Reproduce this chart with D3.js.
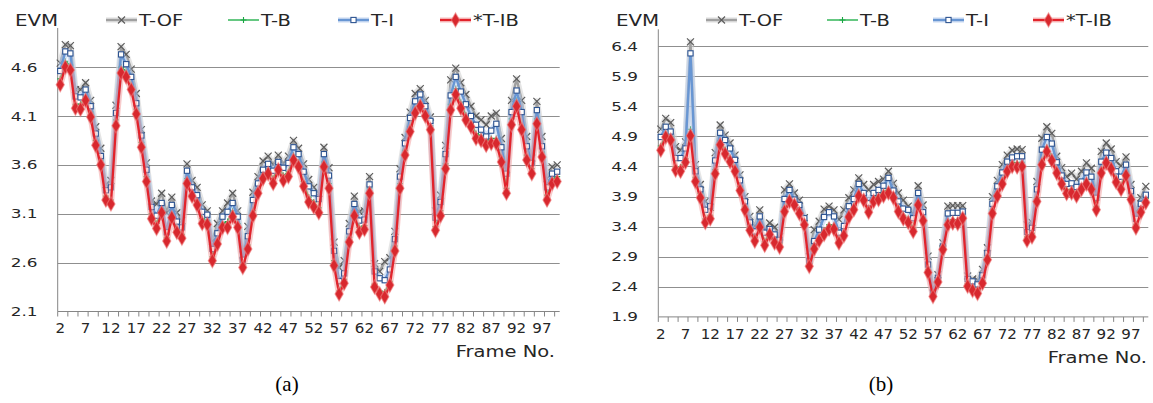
<!DOCTYPE html>
<html>
<head>
<meta charset="utf-8">
<script src="https://cdn.jsdelivr.net/npm/d3@7"></script>
<style>
  body { margin: 0; background: #fff; }
  text { font-family: "DejaVu Sans", sans-serif; fill: #262626; }
</style>
</head>
<body>
<svg id="chart" width="1153" height="403"></svg>
<script>
// frames 2..100 on the category axis
const frames = d3.range(2, 101);
const xTickLabels = [2, 7, 12, 17, 22, 27, 32, 37, 42, 47, 52, 57, 62, 67, 72, 77, 82, 87, 92, 97];
const aYTicks = [2.1, 2.6, 3.1, 3.6, 4.1, 4.6];
const bYTicks = [1.9, 2.4, 2.9, 3.4, 3.9, 4.4, 4.9, 5.4, 5.9, 6.4];
const seriesNames = ["T-OF", "T-B", "T-I", "*T-IB"];

// panel (a)
const aTOF = [4.64,4.83,4.82,4.37,4.37,4.44,4.26,3.99,3.77,3.40,3.44,4.21,4.81,4.73,4.58,4.33,3.96,3.62,3.23,3.20,
  3.31,3.11,3.27,3.11,3.03,3.61,3.44,3.37,3.19,3.13,2.82,3.00,3.13,3.21,3.31,3.13,2.68,2.97,3.32,3.48,
  3.64,3.69,3.60,3.70,3.61,3.69,3.85,3.77,3.61,3.45,
  3.37,3.31,3.78,3.57,2.81,2.55,2.62,3.00,3.28,3.12,3.13,3.48,2.59,2.51,2.61,2.65,2.92,3.56,3.88,4.14,
  4.33,4.38,4.26,4.09,3.13,3.29,3.80,4.47,4.59,4.44,4.32,4.20,4.10,4.06,4.01,4.10,4.13,3.87,3.55,4.26,
  4.48,4.26,3.89,3.67,4.25,3.89,3.46,3.58,3.60];
const aTB = [4.48,4.66,4.62,4.22,4.22,4.30,4.14,3.85,3.65,3.28,3.24,4.06,4.60,4.56,4.42,4.17,3.83,3.48,3.10,3.00,
  3.15,2.86,3.11,2.95,2.89,3.46,3.33,3.24,3.05,3.03,2.66,2.83,3.00,3.02,3.13,3.00,2.58,2.78,3.13,3.36,
  3.51,3.56,3.46,3.60,3.49,3.53,3.70,3.63,3.43,3.27,
  3.22,3.16,3.63,3.41,2.62,2.31,2.43,2.86,3.13,2.96,2.98,3.36,2.38,2.31,2.30,2.41,2.77,3.41,3.75,3.99,
  4.18,4.25,4.15,4.00,2.97,3.13,3.61,4.22,4.38,4.24,4.11,4.04,3.92,3.90,3.85,3.87,3.87,3.68,3.36,4.07,
  4.26,4.01,3.70,3.56,4.07,3.73,3.29,3.46,3.48];
const aTI = [4.56,4.76,4.74,4.30,4.29,4.37,4.20,3.92,3.69,3.34,3.37,4.13,4.73,4.63,4.50,4.23,3.90,3.55,3.17,3.08,
  3.21,2.91,3.19,3.02,2.96,3.54,3.37,3.29,3.12,3.09,2.74,2.90,3.07,3.12,3.21,3.07,2.63,2.87,3.24,3.41,
  3.55,3.61,3.54,3.63,3.57,3.62,3.78,3.71,3.53,3.38,
  3.31,3.25,3.71,3.49,2.72,2.41,2.49,2.92,3.20,3.03,3.04,3.40,2.51,2.44,2.42,2.53,2.84,3.48,3.82,4.08,
  4.25,4.32,4.20,4.05,3.06,3.22,3.71,4.31,4.50,4.35,4.22,4.10,4.01,3.96,3.89,3.95,4.02,3.78,3.51,4.14,
  4.36,4.14,3.79,3.62,4.16,3.79,3.37,3.51,3.53];
const aTIB = [4.42,4.60,4.57,4.18,4.17,4.26,4.09,3.80,3.60,3.24,3.20,4.00,4.54,4.50,4.37,4.12,3.78,3.43,3.05,2.95,
  3.11,2.82,3.06,2.91,2.85,3.41,3.28,3.19,3.00,2.99,2.62,2.79,2.96,2.96,3.07,2.96,2.55,2.74,3.08,3.31,
  3.46,3.51,3.41,3.55,3.44,3.48,3.65,3.58,3.38,3.22,
  3.17,3.11,3.58,3.36,2.57,2.28,2.39,2.81,3.08,2.91,2.94,3.31,2.35,2.28,2.25,2.37,2.72,3.36,3.70,3.94,
  4.13,4.20,4.10,3.96,2.93,3.08,3.56,4.16,4.32,4.18,4.06,3.99,3.87,3.85,3.80,3.82,3.82,3.63,3.31,4.01,
  4.20,3.96,3.65,3.51,4.02,3.68,3.24,3.41,3.43];

// panel (b)
const bTOF = [5.02,5.20,5.13,4.73,4.67,4.81,6.47,4.43,4.10,3.82,3.72,4.63,5.09,4.92,4.79,4.59,4.26,3.90,3.57,3.41,
  3.68,3.35,3.46,3.39,3.23,4.01,4.11,3.96,3.84,3.55,3.00,3.35,3.49,3.69,3.74,3.68,3.52,3.68,3.88,4.01,
  4.21,4.10,4.01,4.10,4.15,4.19,4.32,4.12,3.96,3.84,
  3.74,3.62,4.08,3.76,2.91,2.40,2.60,3.13,3.74,3.75,3.75,3.75,2.58,2.53,2.51,2.69,3.05,3.90,4.17,4.43,
  4.59,4.67,4.69,4.68,3.43,3.47,4.15,4.87,5.06,4.95,4.57,4.38,4.23,4.29,4.19,4.32,4.46,4.37,3.96,4.65,
  4.79,4.69,4.48,4.41,4.56,4.10,3.65,3.88,4.07];
const bTB = [4.74,4.95,4.90,4.40,4.39,4.53,5.02,4.22,3.95,3.53,3.59,4.35,4.83,4.68,4.55,4.38,4.07,3.74,3.40,3.22,
  3.45,3.15,3.33,3.19,3.12,3.72,3.89,3.82,3.68,3.49,2.79,3.09,3.23,3.34,3.43,3.42,3.19,3.31,3.63,3.75,
  3.98,3.90,3.70,3.88,3.92,3.98,4.03,3.94,3.71,3.59,
  3.53,3.38,3.83,3.56,2.69,2.27,2.51,3.07,3.50,3.52,3.51,3.60,2.45,2.38,2.34,2.51,2.90,3.68,3.98,4.18,
  4.39,4.47,4.46,4.47,3.23,3.29,3.88,4.50,4.72,4.57,4.35,4.17,4.01,4.02,3.97,4.08,4.18,4.08,3.74,4.35,
  4.53,4.43,4.20,4.08,4.32,3.91,3.44,3.70,3.87];
const bTI = [4.89,5.06,4.98,4.54,4.54,4.70,6.28,4.32,4.02,3.68,3.74,4.50,4.96,4.84,4.70,4.51,4.17,3.82,3.47,3.32,
  3.57,3.30,3.36,3.27,3.18,3.86,4.01,3.85,3.76,3.54,2.83,3.16,3.35,3.56,3.64,3.57,3.30,3.41,3.74,3.86,
  4.11,3.96,3.79,3.96,4.01,4.08,4.21,4.00,3.82,3.70,
  3.68,3.54,3.96,3.64,2.77,2.30,2.55,3.07,3.62,3.63,3.63,3.65,2.53,2.49,2.44,2.59,2.96,3.78,4.07,4.30,
  4.48,4.55,4.57,4.57,3.31,3.38,4.02,4.68,4.89,4.78,4.47,4.25,4.11,4.12,4.06,4.15,4.30,4.23,3.88,4.48,
  4.63,4.54,4.32,4.23,4.43,3.99,3.53,3.78,3.93];
const bTIB = [4.67,4.89,4.84,4.34,4.32,4.47,4.91,4.15,3.88,3.47,3.53,4.28,4.76,4.61,4.48,4.32,4.00,3.68,3.34,3.16,
  3.39,3.09,3.27,3.13,3.06,3.65,3.82,3.76,3.62,3.43,2.74,3.03,3.17,3.27,3.36,3.36,3.13,3.25,3.56,3.68,
  3.91,3.84,3.64,3.82,3.85,3.91,3.96,3.88,3.65,3.53,
  3.47,3.32,3.76,3.50,2.64,2.24,2.48,3.02,3.43,3.46,3.45,3.54,2.41,2.34,2.29,2.46,2.85,3.62,3.91,4.11,
  4.32,4.40,4.39,4.40,3.17,3.23,3.82,4.43,4.65,4.50,4.29,4.11,3.95,3.96,3.91,4.02,4.11,4.02,3.68,4.29,
  4.46,4.36,4.14,4.02,4.25,3.85,3.38,3.64,3.80];

const styles = [
  { color: "#a0a0a0", glow: "#cfcfcf", width: 2.4, marker: "x" },
  { color: "#25b04c", glow: null, width: 1.4, marker: "plus" },
  { color: "#6896d3", glow: "#b3cbec", width: 2.4, marker: "square" },
  { color: "#e2232b", glow: "#f3a3a3", width: 2.3, marker: "diamond" }
];

const panels = [
  { left: 57.7, right: 559.7, top: 28, bottom: 311.5, yMin: 2.1, yMax: 5.0, yTicks: aYTicks,
    data: [aTOF, aTB, aTI, aTIB], yLabelX: 37.5, xLabelDy: 21.5,
    evmX: 15, legendX: [106, 228, 338, 440], frameX: 555, frameY: 357, caption: "(a)", captionX: 287 },
  { left: 658.3, right: 1148.3, top: 29.3, bottom: 316.9, yMin: 1.9, yMax: 6.68, yTicks: bYTicks,
    data: [bTOF, bTB, bTI, bTIB], yLabelX: 638, xLabelDy: 22,
    evmX: 616, legendX: [706, 827, 933, 1033], frameX: 1147, frameY: 363, caption: "(b)", captionX: 881 }
];

const svg = d3.select("#chart");

function label(g, x, y, txt, size, sx, anchor) {
  return g.append("text")
    .attr("transform", `translate(${x},${y}) scale(${sx},1)`)
    .attr("text-anchor", anchor || "start")
    .style("font-size", size + "px")
    .text(txt);
}

function marker(g, type, x, y) {
  if (type === "x") {
    g.append("path").attr("d", `M${x-3.5},${y-3.5}L${x+3.5},${y+3.5}M${x-3.5},${y+3.5}L${x+3.5},${y-3.5}`)
      .attr("stroke", "#5c5c5c").attr("stroke-width", 1.2).attr("fill", "none");
  } else if (type === "plus") {
    g.append("path").attr("d", `M${x-3},${y}H${x+3}M${x},${y-3}V${y+3}`)
      .attr("stroke", "#1aa544").attr("stroke-width", 1.1).attr("fill", "none");
  } else if (type === "square") {
    g.append("rect").attr("x", x - 2.6).attr("y", y - 2.6).attr("width", 5.2).attr("height", 5.2)
      .attr("fill", "#fff").attr("stroke", "#2d5390").attr("stroke-width", 1.1);
  } else {
    g.append("path").attr("d", d3.symbol(d3.symbolDiamond, 58)())
      .attr("transform", `translate(${x},${y})`)
      .attr("fill", "#d8282e").attr("stroke", "#ee7b7b").attr("stroke-width", 1.2).attr("stroke-opacity", 0.6);
  }
}

panels.forEach(p => {
  const g = svg.append("g");
  const x = d3.scalePoint().domain(frames).range([p.left, p.right]).padding(0.5);
  const y = d3.scaleLinear().domain([p.yMin, p.yMax]).range([p.bottom, p.top]);
  const step = x.step();

  // gridlines
  g.append("g").selectAll("line").data(p.yTicks.slice(1)).join("line")
    .attr("x1", p.left).attr("x2", p.right)
    .attr("y1", d => Math.round(y(d)) + 0.5).attr("y2", d => Math.round(y(d)) + 0.5)
    .attr("stroke", "#8f8f8f").attr("stroke-width", 1);

  // axes
  g.append("line").attr("x1", p.left).attr("x2", p.left).attr("y1", p.top).attr("y2", p.bottom)
    .attr("stroke", "#868686");
  g.append("line").attr("x1", p.left).attr("x2", p.right).attr("y1", p.bottom).attr("y2", p.bottom)
    .attr("stroke", "#868686");
  g.append("g").selectAll("line").data(d3.range(0, frames.length, 2)).join("line")
    .attr("x1", k => p.left + k * step).attr("x2", k => p.left + k * step)
    .attr("y1", p.bottom).attr("y2", p.bottom + 5)
    .attr("stroke", "#868686");

  // tick labels
  p.yTicks.forEach(t => {
    label(g, p.yLabelX, y(t), d3.format(".1f")(t), 12.7, 1.33, "end").attr("dy", "0.36em");
  });
  xTickLabels.forEach(f => {
    label(g, x(f), p.bottom + p.xLabelDy, f, 13.5, 1.12, "middle");
  });

  // series
  p.data.forEach((vals, si) => {
    const st = styles[si];
    const pts = frames.map((f, i) => [x(f), y(vals[i])]);
    const line = d3.line();
    const sg = g.append("g");
    if (st.glow) {
      sg.append("path").attr("d", line(pts)).attr("fill", "none")
        .attr("stroke", st.glow).attr("stroke-width", st.width + 4).attr("stroke-opacity", 0.55)
        .attr("stroke-linejoin", "round");
    }
    sg.append("path").attr("d", line(pts)).attr("fill", "none")
      .attr("stroke", st.color).attr("stroke-width", st.width).attr("stroke-linejoin", "round");
    pts.forEach(([px, py]) => marker(sg, st.marker, px, py));
  });

  // legend
  label(g, p.evmX, 26, "EVM", 15, 1.32, "start");
  p.legendX.forEach((lx, si) => {
    const st = styles[si];
    if (st.glow) {
      g.append("line").attr("x1", lx).attr("x2", lx + 31).attr("y1", 20).attr("y2", 20)
        .attr("stroke", st.glow).attr("stroke-width", st.width + 3).attr("stroke-opacity", 0.55);
    }
    g.append("line").attr("x1", lx).attr("x2", lx + 31).attr("y1", 20).attr("y2", 20)
      .attr("stroke", st.color).attr("stroke-width", st.width);
    marker(g, st.marker, lx + 15.5, 20);
    label(g, lx + 33, 26, seriesNames[si], 15, 1.3, "start");
  });

  label(g, p.frameX, p.frameY, "Frame No.", 16, 1.22, "end");
  g.append("text")
    .attr("x", p.captionX).attr("y", 391).attr("text-anchor", "middle")
    .style("font-size", "21px").style("font-family", "'Liberation Serif', serif").style("fill", "#000")
    .text(p.caption);
});
</script>
</body>
</html>
